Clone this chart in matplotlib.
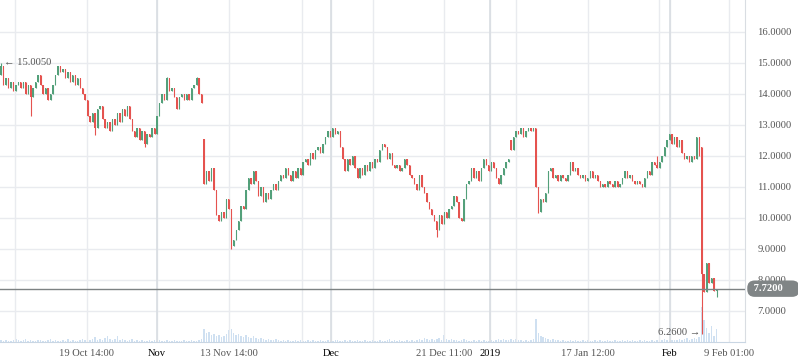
import matplotlib
matplotlib.use("Agg")
import matplotlib.pyplot as plt
import matplotlib.transforms as mtransforms
import numpy as np

# close of each candle left to right
closes = [
    14.9, 14.3, 14.5, 14.2, 14.4, 14.1, 14.3, 14.4,
    14.2, 14.4, 14.0, 14.3, 13.9, 14.2, 14.4, 14.6,
    14.3, 14.0, 14.2, 13.8, 14.0, 14.3, 14.6, 14.9,
    14.7, 14.8, 14.5, 14.7, 14.4, 14.6, 14.3, 14.5,
    14.2, 14.0, 13.8, 13.3, 13.1, 13.4, 12.9, 13.5,
    13.6, 13.2, 12.9, 13.1, 12.8, 13.2, 13.0, 13.4,
    13.1, 13.5, 13.3, 13.6, 13.2, 12.8, 12.6, 12.9,
    12.5, 12.8, 12.4, 12.7, 12.6, 12.9, 12.7,
    13.3, 13.7, 14.0, 13.8, 14.5, 14.1, 14.2, 13.9, 13.5,
    13.9, 14.0, 13.8, 14.0, 13.8, 14.2, 14.3, 14.5, 14.0, 13.7,
    11.1,
    11.5, 11.2, 11.6, 10.9, 10.1, 9.9, 10.2, 10.0, 10.6,
    10.3, 9.1, 9.3, 9.6,
    9.9, 10.4, 10.3, 10.9, 11.3, 11.1, 11.5, 11.2,
    10.7, 11.0, 10.5, 10.8, 10.6, 10.9, 11.1, 10.9,
    11.2, 11.4, 11.3, 11.6, 11.4, 11.2, 11.5, 11.3,
    11.6, 11.4, 11.8, 11.9, 11.7, 12.1, 11.9, 12.2,
    12.3, 12.1, 12.4, 12.6, 12.8, 12.6, 12.9, 12.7,
    12.8, 12.3, 11.9, 11.5, 11.9, 11.7, 12.0, 11.6,
    11.3, 11.6, 11.4, 11.7, 11.5, 11.8, 11.6, 11.9,
    11.8, 12.2, 12.4, 12.3, 11.9, 12.1, 11.7, 11.6,
    11.7, 11.5, 11.6, 11.9, 11.7, 11.4, 11.3, 11.1,
    10.9, 11.4, 11.0, 10.8, 10.5, 10.3, 10.1, 9.9,
    9.6, 10.1, 9.8, 10.2, 10.0, 10.3, 10.4, 10.7,
    10.5, 10.0, 9.9, 10.6, 11.1, 11.2,
    11.6, 11.3, 11.5, 11.2, 11.6, 11.9, 11.7, 11.5, 11.8, 11.6,
    11.3, 11.1, 11.4, 11.6, 11.8, 11.9,
    12.2, 12.6, 12.8, 12.7, 12.9, 12.6,
    12.8, 12.9, 12.8, 12.9,
    11.0,
    10.2, 10.6, 10.5, 10.8,
    11.5, 11.6, 11.3, 11.4,
    11.2, 11.4, 11.3, 11.2, 11.4, 11.8, 11.5, 11.6,
    11.4, 11.3, 11.4, 11.2, 11.3, 11.5, 11.3, 11.4,
    11.2, 11.0, 11.1, 11.0, 11.2, 11.1, 11.0, 11.2,
    11.0, 11.1, 11.3, 11.5, 11.3, 11.4, 11.2, 11.1,
    11.2, 11.1, 11.0, 11.3, 11.5, 11.4, 11.8, 11.7,
    11.6, 11.8, 12.0, 12.3, 12.5, 12.7, 12.4, 12.6,
    12.3, 12.5, 12.1, 11.9, 12.0, 11.8, 12.0, 11.9, 12.6, 12.0,
    8.2,
    7.6, 8.55, 7.9, 8.05, 7.65, 7.72,
]

# candles whose open is not the previous close (gaps)
gap_open = {0: 14.6, 82: 12.55, 206: 12.5, 283: 12.3}
wick_high = {0: 15.005, 67: 14.55, 79: 14.55, 265: 12.0}
wick_low = {12: 13.3, 38: 12.68, 58: 12.3, 93: 9.0, 176: 9.4, 217: 10.16, 283: 6.26, 289: 7.45}

volume = [
    2, 1, 2, 1, 1, 2, 3, 2, 1, 2, 3, 1, 2, 1, 1, 2,
    2, 1, 1, 2, 3, 1, 2, 1, 1, 2, 1, 3, 1, 2, 1, 1,
    2, 3, 2, 4, 2, 3, 5, 2, 3, 2, 4, 6, 3, 2, 3, 6,
    2, 3, 2, 1, 2, 3, 1, 2,
    1, 2, 1, 1, 2, 1, 2,
    1, 2, 1, 1, 2, 1, 1, 2, 1,
    1, 1, 2, 1, 1, 2, 1, 1, 2, 3,
    13,
    9, 10, 7, 8, 6, 7, 5, 6, 8,
    12, 13, 9, 7,
    8, 6, 5, 7, 5, 4, 6, 4,
    3, 4, 3, 2, 3, 2, 2, 3,
    2, 1, 2, 1, 2, 1, 1, 2, 1, 2, 1, 1, 2, 1, 2, 1,
    1, 2, 1, 1, 2, 1, 1, 2,
    2, 1, 1, 2, 1, 2, 1, 1, 2, 1, 1, 2, 1, 1, 2, 1,
    1, 2, 1, 1, 2, 3, 1, 2, 1, 2, 1, 1, 2, 1, 2, 1,
    2, 3, 2, 4, 3, 2, 3, 2,
    3, 4, 2, 7, 3, 2, 3, 2,
    2, 1, 2, 3, 2, 1,
    1, 2, 1, 2, 1, 2, 1, 1, 2, 1,
    2, 3, 2, 3, 2, 2,
    3, 2, 3, 2, 2, 1,
    2, 1, 2, 3,
    23,
    9, 6, 5, 4,
    3, 2, 3, 2,
    2, 1, 2, 1, 1, 2, 1, 2, 1, 1, 2, 1, 2, 1, 1, 2,
    1, 2, 1, 1, 2, 1, 1, 2, 1, 1, 2, 1, 2, 1, 2, 1,
    1, 2, 1, 2, 1, 1, 2, 1,
    2, 1, 2, 3, 2, 1, 2, 2,
    2, 3, 2, 3, 4, 2, 3, 4, 3, 5,
    35,
    22, 14, 9, 16, 6, 13,
]

tick_idx = [34.7, 63.0, 92.0, 133.3, 179.0, 197.5, 237.0, 270.0, 294.0]
tick_labels = ["19 Oct 14:00", "Nov", "13 Nov 14:00", "Dec", "21 Dec 11:00",
               "2019", "17 Jan 12:00", "Feb", "9 Feb 01:00"]
month_labels = {"Nov", "Dec", "2019", "Feb"}
minor_idx = [5.7, 121.6, 150.3, 208.0, 265.8]
last_price = 7.72

UP = "#53a07a"
DOWN = "#e5534f"
GRID = "#e9ebef"
SERIF = ["Liberation Serif", "DejaVu Serif", "DejaVu Sans"]
FS = 7.6

closes = np.array(closes)
n = len(closes)
idx = np.arange(n)
opens = np.r_[closes[0], closes[:-1]].astype(float)
for k, v in gap_open.items():
    opens[k] = v
highs = np.maximum(opens, closes)
lows = np.minimum(opens, closes)
for k, v in wick_high.items():
    highs[k] = v
for k, v in wick_low.items():
    lows[k] = v
colors = [UP if c >= o else DOWN for o, c in zip(opens, closes)]
body = np.where(np.abs(closes - opens) < 0.03, 0.03, closes - opens)

fig = plt.figure(figsize=(7.98, 3.63), dpi=100)
ax = fig.add_axes([0, 21 / 363, 745 / 798, 342 / 363])
vax = ax.twinx()
ax.set_zorder(vax.get_zorder() + 1)
ax.patch.set_visible(False)

vax.bar(idx, volume, width=0.6, color="#cfe0f1", linewidth=0)
vax.set_ylim(0, 342)
vax.set_yticks([])
for s in vax.spines.values():
    s.set_visible(False)

ax.vlines(idx, lows, highs, colors=colors, linewidth=0.8, zorder=3)
ax.bar(idx, body, bottom=opens, width=0.55, color=colors, linewidth=0, zorder=3)

ax.set_xlim(-0.4, -0.4 + 745 / 2.476)
ax.set_ylim(6.0, 17.03)

ax.yaxis.tick_right()
ax.set_yticks(np.arange(7, 17))
ax.set_yticklabels(["%.4f" % v for v in np.arange(7, 17)])
ax.tick_params(axis="y", length=0, pad=9, labelsize=FS, labelcolor="#555555")
ax.set_xticks(tick_idx)
ax.set_xticklabels(tick_labels)
ax.set_xticks(minor_idx, minor=True)
ax.tick_params(axis="x", which="both", length=0, pad=5, labelsize=FS)
for lab in ax.get_xticklabels() + ax.get_yticklabels():
    lab.set_family(SERIF)
for lab in ax.get_xticklabels():
    lab.set_color("#000000" if lab.get_text() in month_labels else "#555555")

ax.grid(True, which="both", color=GRID, linewidth=1)
for t, lab in zip(tick_idx, tick_labels):
    if lab in month_labels:
        ax.axvline(t, color="#d9dde2", linewidth=1.2, zorder=1)
ax.set_axisbelow(True)

for side in ["top", "left"]:
    ax.spines[side].set_visible(False)
ax.spines["right"].set_color("#d9dde2")
ax.spines["bottom"].set_color("#c9d6e3")

ax.axhline(last_price, color="#7d8283", linewidth=1, zorder=4)
trans = mtransforms.blended_transform_factory(ax.transAxes, ax.transData)
ax.text(1.008, last_price, " 7.7200     ", transform=trans, ha="left", va="center",
        fontsize=FS, fontweight="bold", color="white", family=SERIF, zorder=5,
        bbox=dict(boxstyle="round,pad=0.35,rounding_size=0.7", fc="#808586", ec="none"),
        clip_on=False)

ax.text(1.4, 15.005, "\u2190 15.0050", ha="left", va="center", fontsize=FS,
        color="#555555", family=SERIF, zorder=5)
ax.text(282.3, 6.3, "6.2600 \u2192", ha="right", va="center", fontsize=FS,
        color="#555555", family=SERIF, zorder=5)

fig.savefig("out.png", dpi=100)
